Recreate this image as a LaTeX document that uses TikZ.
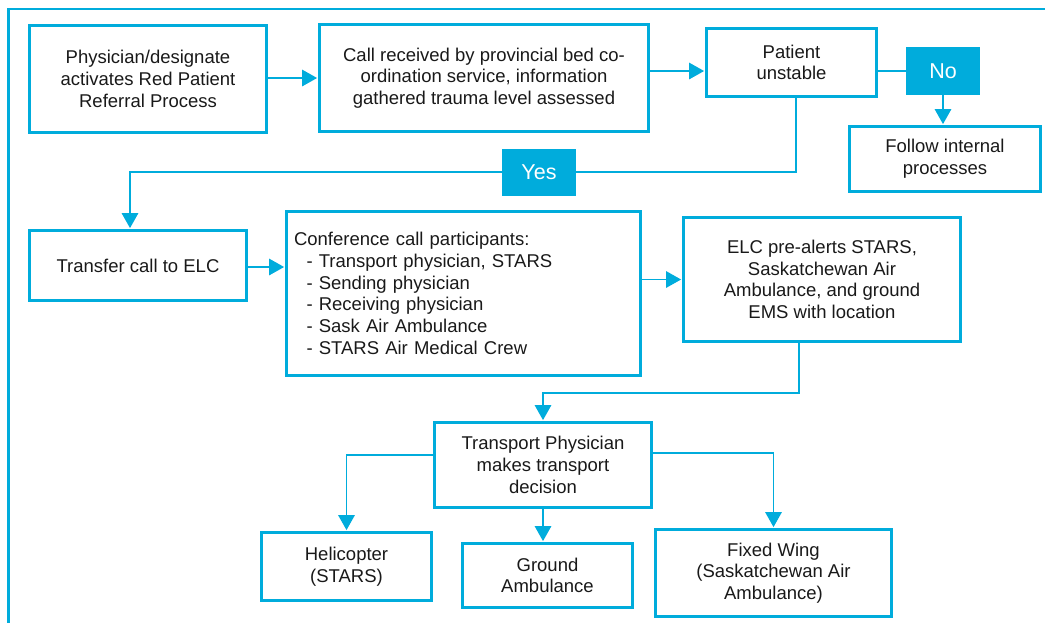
\documentclass[tikz,border=0pt]{standalone}
\usepackage{fontspec}
\setmainfont{Liberation Sans}
\usetikzlibrary{arrows.meta,calc}
\definecolor{cy}{RGB}{0,172,220}
\definecolor{tx}{RGB}{25,25,25}
\begin{document}
\begin{tikzpicture}[x=1pt,y=-1pt,
  box/.style={draw=cy, line width=2.8pt, align=center, inner sep=0pt, text=tx,
    font=\fontsize{18.5}{21.7}\selectfont},
  tag/.style={fill=cy, inner sep=0pt, text=white, font=\fontsize{21.5}{24}\selectfont},
  conn/.style={draw=cy, line width=1.4pt, -{Triangle[length=15pt,width=16.5pt]}, shorten >=1pt},
  line/.style={draw=cy, line width=1.4pt}]
\useasboundingbox (0,0) rectangle (1045,622);
\clip (0,0) rectangle (1045,622);
\draw[cy, line width=2.6pt] (8.5,9) rectangle (1100,700);

\node[box, minimum width=237pt, minimum height=107pt] (A) at (148,79)
  {Physician/designate\\activates Red Patient\\Referral Process};
\node[box, minimum width=329pt, minimum height=107pt] (B) at (484,78)
  {Call received by provincial bed co-\\ordination service, information\\gathered trauma level assessed};
\node[box, minimum width=170pt, minimum height=68pt] (C) at (791.5,62.5)
  {Patient\\unstable};
\node[tag, minimum width=74pt, minimum height=48pt] (No) at (943,71) {No};
\node[box, minimum width=191pt, minimum height=65pt] (F) at (945,159)
  {Follow internal\\processes};
\node[tag, minimum width=74pt, minimum height=47pt] (Yes) at (539,172) {Yes};
\node[box, minimum width=217pt, minimum height=70pt] (T) at (138,265.5)
  {Transfer call to ELC};
\node[box, minimum width=354pt, minimum height=164pt, text width=339pt, align=left] (K) at (463.5,293.5)
  {Conference call participants:\\
   \hspace*{12.5pt}- Transport physician, STARS\\
   \hspace*{12.5pt}- Sending physician\\
   \hspace*{12.5pt}- Receiving physician\\
   \hspace*{12.5pt}- Sask Air Ambulance\\
   \hspace*{12.5pt}- STARS Air Medical Crew};
\node[box, minimum width=277pt, minimum height=124pt] (E) at (822,279.5)
  {ELC pre-alerts STARS,\\Saskatchewan Air\\Ambulance, and ground\\EMS with location};
\node[box, minimum width=217pt, minimum height=85pt] (P) at (543,465)
  {Transport Physician\\makes transport\\decision};
\node[box, minimum width=170pt, minimum height=68pt] (H) at (346.5,566.5)
  {Helicopter\\(STARS)};
\node[box, minimum width=170pt, minimum height=64pt] (G) at (547.5,575.5)
  {Ground\\Ambulance};
\node[box, minimum width=236pt, minimum height=87pt] (W) at (773.5,573)
  {Fixed Wing\\(Saskatchewan Air\\Ambulance)};

\draw[conn] (A.east |- 0,78) -- (B.west |- 0,78);
\draw[conn] (B.east |- No) -- (C.west |- No);
\draw[line] (C.east |- No) -- (No.west);
\draw[conn] (No.south) -- (No.south |- F.north);
\draw[line] (C.south -| 796,0) |- (Yes.east);
\draw[conn] (Yes.west) -| (T.north -| 130,0);
\draw[conn] (T.east |- 0,267) -- (K.west |- 0,267);
\draw[conn] (K.east |- E) -- (E.west);
\draw[conn] (E.south -| 799,0) |- (P.north |- 0,393) -- (P.north);
\draw[conn] (P.west |- 0,455) -| (H.north);
\draw[conn] (P.south) -- (P.south |- G.north);
\draw[conn] (P.east |- 0,453) -| (W.north);
\end{tikzpicture}
\end{document}
